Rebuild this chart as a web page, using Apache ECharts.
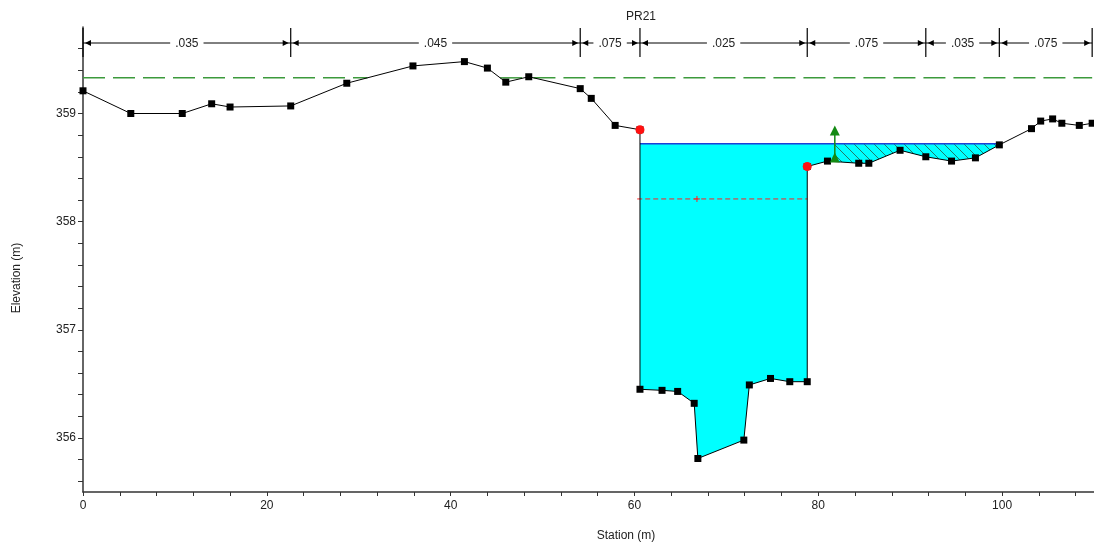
<!DOCTYPE html>
<html lang="en">
<head>
<meta charset="utf-8"/>
<title>PR21</title>
<script src="https://cdn.jsdelivr.net/npm/echarts@6.0.0/dist/echarts.min.js"></script>
<style>
  html, body { margin: 0; background: #fff; }
  #container { width: 1094px; height: 545px; }
</style>
</head>
<body>
<div id="container"></div>
<script type="text/javascript">
// ground survey points of section PR21
var station = [0, 5.2, 10.8, 14.0, 16.0, 22.6, 28.7, 35.9, 41.5, 44.0, 46.0, 48.5, 54.1, 55.3, 57.9,
    60.6, 60.6, 63.0, 64.7, 66.5, 66.9, 71.9, 72.5, 74.8, 76.9, 78.8, 78.8,
    81.0, 84.4, 85.5, 88.9, 91.7, 94.5, 97.1, 99.7, 103.2, 104.2, 105.5, 106.5, 108.4, 109.8];
var elev = [359.21, 359.00, 359.00, 359.09, 359.06, 359.07, 359.28, 359.44, 359.48, 359.42, 359.29, 359.34, 359.23, 359.14, 358.89,
    358.85, 356.45, 356.44, 356.43, 356.32, 355.81, 355.98, 356.49, 356.55, 356.52, 356.52, 358.51,
    358.56, 358.54, 358.54, 358.66, 358.60, 358.56, 358.59, 358.71, 358.86, 358.93, 358.95, 358.91, 358.89, 358.91];

var bankStations = [60.6, 78.8];
var wsElev = 358.72;     // water surface
var egElev = 359.33;     // energy grade line
var critElev = 358.21;   // critical WS
var critStation = 66.8;
var ineffStation = 81.8;
var ineffElev = 358.89;

// manning n regions
var nBreaks = [0, 22.6, 54.1, 60.6, 78.8, 91.7, 99.7, 109.8];
var nValues = ['.035', '.045', '.075', '.025', '.075', '.035', '.075'];

// axis ticks
var xLabels = [0, 20, 40, 60, 80, 100];
var xTicks = [0, 4, 8, 12, 16, 20, 24, 28, 32, 36, 40, 44, 48, 52, 56, 60, 64, 68, 72, 76, 80, 84, 88, 92, 96, 100, 104, 108];
var yLabels = [356, 357, 358, 359];
var yTicks = [355.6, 355.8, 356, 356.2, 356.4, 356.6, 356.8, 357, 357.2, 357.4, 357.6, 357.8, 358,
    358.2, 358.4, 358.6, 358.8, 359, 359.2, 359.4, 359.6];

var FONT = '"Liberation Sans", Arial, sans-serif';

function groundAt(x) {
    for (var i = 0; i < station.length - 1; i++) {
        var s0 = station[i], s1 = station[i + 1];
        if (s1 > s0 && x >= s0 && x <= s1) {
            return elev[i] + (elev[i + 1] - elev[i]) * (x - s0) / (s1 - s0);
        }
    }
    return elev[elev.length - 1];
}

function groundBetween(xa, xb) {
    var pts = [[xa, groundAt(xa)]];
    for (var i = 0; i < station.length; i++) {
        if (station[i] > xa && station[i] < xb) pts.push([station[i], elev[i]]);
    }
    pts.push([xb, groundAt(xb)]);
    return pts;
}

// area between ground and a level, from xa to xb
function wetPolygon(level, xa, xb) {
    var g = groundBetween(xa, xb);
    var poly = [[xa, level]];
    for (var i = 0; i < g.length; i++) {
        if (i > 0) {
            var a = g[i - 1], b = g[i];
            if ((a[1] - level) * (b[1] - level) < 0) {
                var t = (level - a[1]) / (b[1] - a[1]);
                poly.push([a[0] + t * (b[0] - a[0]), level]);
            }
        }
        poly.push([g[i][0], Math.min(g[i][1], level)]);
    }
    poly.push([xb, level]);
    return poly;
}

// station ranges where ground is below a level
function wetRanges(level) {
    var out = [];
    var below = elev[0] < level;
    var start = station[0];
    for (var i = 1; i < station.length; i++) {
        var e0 = elev[i - 1], e1 = elev[i];
        if ((e0 - level) * (e1 - level) < 0) {
            var x = station[i - 1] + (level - e0) / (e1 - e0) * (station[i] - station[i - 1]);
            if (below) out.push([start, x]); else start = x;
            below = !below;
        }
    }
    if (below) out.push([start, station[station.length - 1]]);
    return out;
}

function seg(api, p, q, style) {
    var a = api.coord(p), b = api.coord(q);
    return { type: 'line', shape: { x1: a[0], y1: a[1], x2: b[0], y2: b[1] }, style: style };
}

// hatch pattern for ineffective area
var T = 10;
var hatch = document.createElement('canvas');
hatch.width = T; hatch.height = T;
var hc = hatch.getContext('2d');
hc.fillStyle = '#00ffff';
hc.fillRect(0, 0, T, T);
hc.strokeStyle = '#247a6a';
hc.lineWidth = 1;
hc.beginPath();
hc.moveTo(0, 0); hc.lineTo(T, T);
hc.moveTo(-1, T - 1); hc.lineTo(1, T + 1);
hc.moveTo(T - 1, -1); hc.lineTo(T + 1, 1);
hc.stroke();

var groundData = station.map(function (s, i) { return [s, elev[i]]; });
var bankData = bankStations.map(function (s) {
    var best = null;
    station.forEach(function (st, i) {
        if (st === s && (best === null || elev[i] > best)) best = elev[i];
    });
    return [s, best];
});

var dom = document.getElementById('container');
var myChart = echarts.init(dom, null, { renderer: 'canvas' });

var option = {
    animation: false,
    backgroundColor: '#fff',
    grid: { left: 83, right: 0, top: 27, bottom: 53 },
    graphic: [
        { type: 'text', x: 641, y: 17, style: { text: 'PR21', font: '12px ' + FONT, fill: '#222', align: 'center', verticalAlign: 'middle' } },
        { type: 'text', x: 626, y: 536, style: { text: 'Station (m)', font: '12px ' + FONT, fill: '#222', align: 'center', verticalAlign: 'middle' } },
        { type: 'text', x: 17, y: 278, rotation: Math.PI / 2, style: { text: 'Elevation (m)', font: '12px ' + FONT, fill: '#222', align: 'center', verticalAlign: 'middle' } }
    ],
    xAxis: {
        type: 'value', min: 0, max: 110,
        axisLine: { show: true, onZero: false, lineStyle: { color: '#333', width: 1.5 } },
        axisTick: { show: true, customValues: xTicks, length: 4, lineStyle: { color: '#333' } },
        axisLabel: { customValues: xLabels, color: '#222', fontSize: 12, fontFamily: FONT, margin: 8 },
        splitLine: { show: false }
    },
    yAxis: {
        type: 'value', min: 355.5, max: 359.8,
        axisLine: { show: true, onZero: false, lineStyle: { color: '#333', width: 1.5 } },
        axisTick: { show: true, customValues: yTicks, length: 5, lineStyle: { color: '#333' } },
        axisLabel: { customValues: yLabels, color: '#222', fontSize: 12, fontFamily: FONT, margin: 7 },
        splitLine: { show: false }
    },
    series: [
        {
            name: 'water', type: 'custom', silent: true, z: 1,
            data: [[station[0], wsElev]],
            renderItem: function (params, api) {
                var pts = wetPolygon(wsElev, station[0], station[station.length - 1]).map(function (p) { return api.coord(p); });
                return { type: 'polygon', shape: { points: pts }, style: { fill: '#00ffff' } };
            }
        },
        {
            name: 'ineffective', type: 'custom', silent: true, z: 2,
            data: [[ineffStation, wsElev]],
            renderItem: function (params, api) {
                var pts = wetPolygon(wsElev, ineffStation, station[station.length - 1]).map(function (p) { return api.coord(p); });
                return { type: 'polygon', shape: { points: pts }, style: { fill: { image: hatch, repeat: 'repeat' } } };
            }
        },
        {
            name: 'crit', type: 'custom', silent: true, z: 3,
            data: [[critStation, critElev]],
            renderItem: function (params, api) {
                var c = api.coord([critStation, critElev]);
                return {
                    type: 'group', children: [
                        seg(api, [bankStations[0] - 0.3, critElev], [bankStations[1], critElev], { stroke: '#ff2020', lineWidth: 1, lineDash: [5, 3] }),
                        { type: 'line', shape: { x1: c[0] - 3, y1: c[1], x2: c[0] + 3, y2: c[1] }, style: { stroke: '#ff2020', lineWidth: 1 } },
                        { type: 'line', shape: { x1: c[0], y1: c[1] - 3, x2: c[0], y2: c[1] + 3 }, style: { stroke: '#ff2020', lineWidth: 1 } }
                    ]
                };
            }
        },
        {
            name: 'WS', type: 'custom', silent: true, z: 4,
            data: [[station[0], wsElev]],
            renderItem: function (params, api) {
                return {
                    type: 'group', children: wetRanges(wsElev).map(function (r) {
                        return seg(api, [r[0], wsElev], [r[1], wsElev], { stroke: '#1c3fd8', lineWidth: 1.5 });
                    })
                };
            }
        },
        {
            name: 'EG', type: 'custom', silent: true, z: 4,
            data: [[station[0], egElev]],
            renderItem: function (params, api) {
                return {
                    type: 'group', children: wetRanges(egElev).map(function (r) {
                        return seg(api, [r[0], egElev], [r[1], egElev], { stroke: '#3c9a3c', lineWidth: 1.5, lineDash: [22, 8] });
                    })
                };
            }
        },
        {
            name: 'Ground', type: 'line', z: 5, silent: true,
            data: groundData,
            symbol: 'rect', symbolSize: 7,
            lineStyle: { color: '#000', width: 1 },
            itemStyle: { color: '#000' }
        },
        {
            name: 'Bank Sta', type: 'custom', silent: true, z: 10,
            data: bankData,
            renderItem: function (params, api) {
                var p = api.coord([api.value(0), api.value(1)]);
                return { type: 'circle', shape: { cx: p[0], cy: p[1], r: 4.5 }, style: { fill: '#ff1010' } };
            }
        },
        {
            name: 'Ineff', type: 'custom', silent: true, z: 7,
            data: [[ineffStation, ineffElev]],
            renderItem: function (params, api) {
                var base = api.coord([ineffStation, groundAt(ineffStation)]);
                var tip = api.coord([ineffStation, ineffElev]);
                var g = '#138a13';
                return {
                    type: 'group', children: [
                        { type: 'line', shape: { x1: tip[0], y1: tip[1] + 8, x2: base[0], y2: base[1] }, style: { stroke: g, lineWidth: 1.5 } },
                        { type: 'polygon', shape: { points: [[tip[0], tip[1]], [tip[0] - 5, tip[1] + 10], [tip[0] + 5, tip[1] + 10]] }, style: { fill: g } },
                        { type: 'polygon', shape: { points: [[base[0], base[1] - 9], [base[0] - 5, base[1] + 1], [base[0] + 5, base[1] + 1]] }, style: { fill: g } }
                    ]
                };
            }
        },
        {
            name: 'n', type: 'custom', silent: true, clip: false, z: 8,
            data: nValues.map(function (v, i) { return [nBreaks[i], 359.5, nBreaks[i + 1]]; }),
            encode: { x: [0, 2], y: 1 },
            renderItem: function (params, api) {
                var i = params.dataIndex;
                var x0 = api.coord([api.value(0), 359.5])[0];
                var x1 = api.coord([api.value(2), 359.5])[0];
                var top = params.coordSys.y;
                var yl = top + 16;
                var st = { stroke: '#000', lineWidth: 1 };
                var kids = [
                    { type: 'line', shape: { x1: x0, y1: yl, x2: x1, y2: yl }, style: st },
                    { type: 'line', shape: { x1: x1, y1: top + 1, x2: x1, y2: top + 30 }, style: { stroke: '#000', lineWidth: 1.2 } },
                    { type: 'polygon', shape: { points: [[x0 + 2, yl], [x0 + 8, yl - 3], [x0 + 8, yl + 3]] }, style: { fill: '#000' } },
                    { type: 'polygon', shape: { points: [[x1 - 2, yl], [x1 - 8, yl - 3], [x1 - 8, yl + 3]] }, style: { fill: '#000' } },
                    {
                        type: 'text', x: (x0 + x1) / 2, y: yl + 1,
                        style: { text: nValues[i], font: '12px ' + FONT, fill: '#222', align: 'center', verticalAlign: 'middle', backgroundColor: '#fff', padding: [0, 5] }
                    }
                ];
                if (i === 0) {
                    kids.push({ type: 'line', shape: { x1: x0, y1: top + 1, x2: x0, y2: top + 30 }, style: { stroke: '#000', lineWidth: 1.2 } });
                }
                return { type: 'group', children: kids };
            }
        }
    ]
};

if (option && typeof option === 'object') {
    myChart.setOption(option, true);
}
</script>
</body>
</html>
